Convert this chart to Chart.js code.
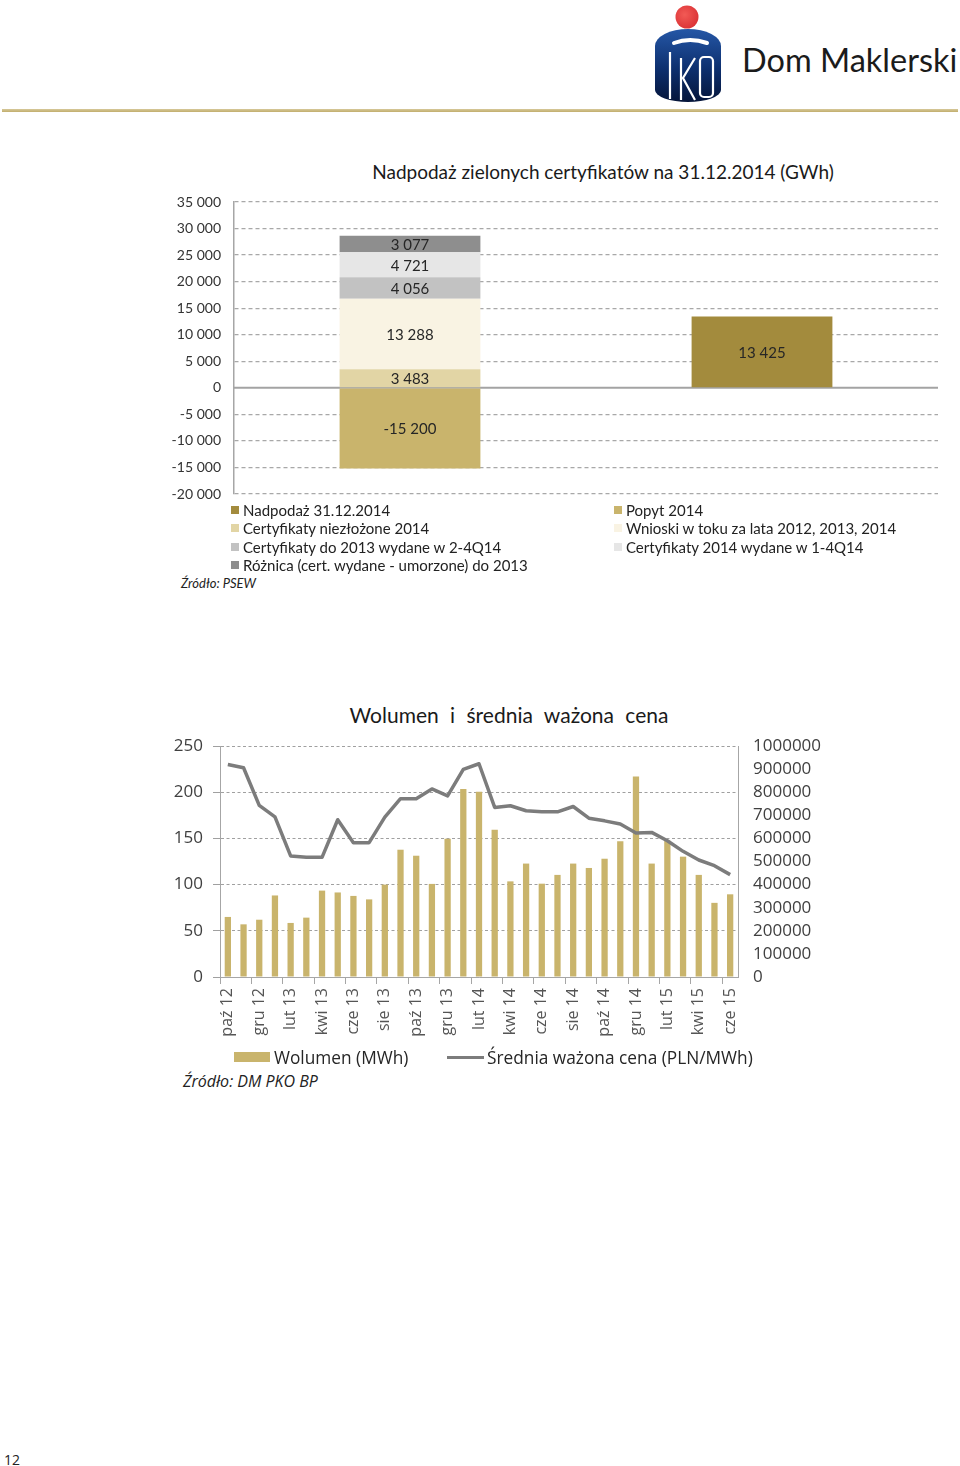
<!DOCTYPE html>
<html lang="pl">
<head>
<meta charset="utf-8">
<script src="https://cdn.jsdelivr.net/npm/chart.js@4"></script>
<style>
  html, body { margin: 0; padding: 0; background: #fff; }
  body { width: 960px; height: 1466px; position: relative; overflow: hidden; font-family: Lato, "Open Sans", sans-serif; }
  .abs { position: absolute; }
  #brand { left: 742px; top: 40px; font: 400 32.5px Lato, sans-serif; color: #1b1b1b; white-space: nowrap; }
  #goldline { left: 2px; top: 109px; width: 956px; height: 3px; background: linear-gradient(#d6c89a, #c2ae6c); }
  #title1 { left: 300px; width: 606px; top: 160px; text-align: center; font: 400 19px Lato, sans-serif; color: #1a1a1a; white-space: nowrap; }
  #c1wrap { left: 170px; top: 190px; width: 780px; height: 315px; }
  #legend1 { left: 231px; top: 501px; width: 720px; display: grid; grid-template-columns: 383px 337px; row-gap: 0; font: 400 15px Lato, sans-serif; color: #222; }
  #legend1 .it { height: 18.3px; line-height: 18.3px; white-space: nowrap; display: flex; align-items: center; }
  #legend1 .sw { width: 8px; height: 8px; margin-right: 4px; flex: none; }
  #src1 { left: 181px; top: 575px; font: italic 400 13px Lato, sans-serif; color: #222; }
  #title2 { left: 300px; width: 418px; top: 702px; text-align: center; font: 400 21px Lato, sans-serif; color: #1a1a1a; word-spacing: 6px; white-space: nowrap; }
  #c2wrap { left: 150px; top: 730px; width: 700px; height: 320px; }
  #legend2 { left: 234px; top: 1045px; font: 400 17.3px "Open Sans", sans-serif; color: #262626; white-space: nowrap; }
  #legend2 .it { position: absolute; top: 0; display: flex; align-items: center; height: 24px; }
  #src2 { left: 183px; top: 1070px; font: italic 400 16px "Open Sans", sans-serif; color: #222; white-space: nowrap; }
  #pageno { left: 4px; top: 1450px; font: 400 14px "Open Sans", sans-serif; color: #222; }
</style>
</head>
<body>
<svg class="abs" style="left:650px;top:0px" width="80" height="110" viewBox="0 0 80 110">
  <defs>
    <linearGradient id="bg" x1="0" y1="0" x2="0" y2="1">
      <stop offset="0" stop-color="#2557a6"/>
      <stop offset="0.55" stop-color="#0d2f6e"/>
      <stop offset="1" stop-color="#05153a"/>
    </linearGradient>
    <radialGradient id="rg" cx="0.4" cy="0.4" r="0.7">
      <stop offset="0" stop-color="#f25a55"/>
      <stop offset="1" stop-color="#d92f33"/>
    </radialGradient>
  </defs>
  <circle cx="37" cy="17" r="11.5" fill="url(#rg)"/>
  <path d="M5,46 A33,17 0 0 1 71,46 L71,90 A33,12 0 0 1 5,90 Z" fill="url(#bg)"/>
  <path d="M24,43 Q40,37 57,43" stroke="#fff" stroke-width="4" fill="none" stroke-linecap="round"/>
  <path d="M20,52 L20,99" stroke="#fff" stroke-width="2.2" fill="none"/>
  <path d="M31,58 L31,100 M45,58 L33,78 L45,100" stroke="#fff" stroke-width="2.2" fill="none"/>
  <rect x="50" y="57" width="13" height="40" rx="4" stroke="#fff" stroke-width="2.2" fill="none"/>
</svg>
<div id="brand" class="abs">Dom Maklerski</div>
<div id="goldline" class="abs"></div>

<div id="title1" class="abs">Nadpodaż zielonych certyfikatów na 31.12.2014 (GWh)</div>
<div id="c1wrap" class="abs"><canvas id="c1" width="780" height="315"></canvas></div>
<div id="legend1" class="abs"></div>
<div id="src1" class="abs">Źródło: PSEW</div>

<div id="title2" class="abs">Wolumen i średnia ważona cena</div>
<div id="c2wrap" class="abs"><canvas id="c2" width="700" height="320"></canvas></div>
<div id="legend2" class="abs"></div>
<div id="src2" class="abs">Źródło: DM PKO BP</div>

<div id="pageno" class="abs">12</div>

<script>
// ---------- Chart 1 data ----------
const topCategories = ['Podaż i popyt', 'Nadpodaż'];
const nadpodaz      = [null, 13425];
const popyt2014     = [-15200, null];
const niezlozone    = [3483, null];
const wnioski       = [13288, null];
const do2013Wydane  = [4056, null];
const wydane2014    = [4721, null];
const roznica       = [3077, null];
const topAxisMin = -20000, topAxisMax = 35000, topAxisStep = 5000;

// ---------- Chart 2 data ----------
const months = ['paź 12','lis 12','gru 12','sty 13','lut 13','mar 13','kwi 13','maj 13','cze 13','lip 13','sie 13','wrz 13','paź 13','lis 13','gru 13','sty 14','lut 14','mar 14','kwi 14','maj 14','cze 14','lip 14','sie 14','wrz 14','paź 14','lis 14','gru 14','sty 15','lut 15','mar 15','kwi 15','maj 15','cze 15'];
const wolumen = [260000,228000,248000,353000,234000,257000,374000,366000,351000,336000,400000,551000,525000,403000,599000,814000,802000,637000,414000,491000,404000,442000,491000,472000,512000,588000,868000,491000,590000,521000,442000,321000,358000];
const cena = [230,226.5,185.7,173.2,131,129.5,129.5,170.2,145.4,145.4,173,193,193,203.5,196,224.7,230.8,183.5,185.3,179.9,178.8,178.8,184.5,171.9,169,165.5,155.8,156.5,147.5,136,126.6,120.5,110.8];

const fmtSpace = v => String(v).replace(/\B(?=(\d{3})+(?!\d))/g, ' ');

// ---------- Chart 1 ----------
const ds1 = [
  { label: 'Nadpodaż 31.12.2014', data: nadpodaz, backgroundColor: '#a38b3d' },
  { label: 'Popyt 2014', data: popyt2014, backgroundColor: '#c9b46c' },
  { label: 'Certyfikaty niezłożone 2014', data: niezlozone, backgroundColor: '#e2d5a5' },
  { label: 'Wnioski w toku za lata 2012, 2013, 2014', data: wnioski, backgroundColor: '#f9f3e3' },
  { label: 'Certyfikaty do 2013 wydane w 2-4Q14', data: do2013Wydane, backgroundColor: '#c2c2c2' },
  { label: 'Certyfikaty 2014 wydane w 1-4Q14', data: wydane2014, backgroundColor: '#e6e6e6' },
  { label: 'Różnica (cert. wydane - umorzone) do 2013', data: roznica, backgroundColor: '#8e8e8e' }
].map(d => Object.assign(d, { stack: 's', barPercentage: 0.4, categoryPercentage: 1.0, borderWidth: 0 }));

const zeroLine = {
  id: 'zeroLine',
  beforeDatasetsDraw(chart) {
    const y = chart.scales.y.getPixelForValue(0);
    const { left, right } = chart.chartArea;
    const ctx = chart.ctx;
    ctx.save();
    ctx.strokeStyle = '#a3a3a3';
    ctx.lineWidth = 2;
    ctx.beginPath(); ctx.moveTo(left, y); ctx.lineTo(right, y); ctx.stroke();
    ctx.restore();
  }
};
const barLabels = {
  id: 'barLabels',
  afterDatasetsDraw(chart) {
    const ctx = chart.ctx;
    ctx.save();
    ctx.font = '400 15px Lato, sans-serif';
    ctx.fillStyle = '#262626';
    ctx.textAlign = 'center';
    ctx.textBaseline = 'middle';
    chart.data.datasets.forEach((ds, i) => {
      const meta = chart.getDatasetMeta(i);
      meta.data.forEach((el, j) => {
        const v = ds.data[j];
        if (v == null) return;
        const p = el.getProps(['x', 'y', 'base'], true);
        ctx.fillText(fmtSpace(v), p.x, (p.y + p.base) / 2 + 1);
      });
    });
    ctx.restore();
  }
};
const noPad = s => { s.paddingTop = 0; s.paddingBottom = 0; };

const chart1 = new Chart(document.getElementById('c1'), {
  type: 'bar',
  data: { labels: topCategories, datasets: ds1 },
  options: {
    responsive: false, animation: false,
    layout: { padding: { top: 12, right: 12, bottom: 11, left: 0 } },
    plugins: { legend: { display: false }, tooltip: { enabled: false } },
    scales: {
      x: { stacked: true, display: false, grid: { display: false } },
      y: {
        stacked: true, min: topAxisMin, max: topAxisMax,
        afterFit(s) { s.width = 64; noPad(s); },
        ticks: { stepSize: topAxisStep, autoSkip: false, padding: 13, color: '#333', font: { family: 'Lato', size: 14 }, callback: v => fmtSpace(v) },
        grid: { drawTicks: false, color: ctx => (ctx.tick && ctx.tick.value === 0) ? 'rgba(0,0,0,0)' : '#a8a8a8', lineWidth: 1.2 },
        border: { display: true, color: '#a6a6a6', width: 1.5, dash: [4, 3] }
      }
    }
  },
  plugins: [zeroLine, barLabels]
});

// HTML legend for chart 1 (built from datasets)
const leg1 = document.getElementById('legend1');
chart1.data.datasets.forEach(ds => {
  const it = document.createElement('div'); it.className = 'it';
  const sw = document.createElement('span'); sw.className = 'sw'; sw.style.background = ds.backgroundColor;
  const tx = document.createElement('span'); tx.textContent = ds.label;
  it.appendChild(sw); it.appendChild(tx); leg1.appendChild(it);
});

// ---------- Chart 2 ----------
const chart2 = new Chart(document.getElementById('c2'), {
  type: 'bar',
  data: {
    labels: months,
    datasets: [
      { type: 'bar', label: 'Wolumen (MWh)', data: wolumen, yAxisID: 'y1', order: 1,
        backgroundColor: '#c9b46c', barPercentage: 0.4, categoryPercentage: 1.0, borderWidth: 0 },
      { type: 'line', label: 'Średnia ważona cena (PLN/MWh)', data: cena, yAxisID: 'y', order: 0,
        borderColor: '#7c7c7c', backgroundColor: '#7c7c7c', borderWidth: 3.5, pointRadius: 0, tension: 0,
        borderJoinStyle: 'round' }
    ]
  },
  options: {
    responsive: false, animation: false,
    layout: { padding: { top: 16, right: 0, bottom: 0, left: 0 } },
    plugins: { legend: { display: false }, tooltip: { enabled: false } },
    scales: {
      x: {
        afterFit(s) { s.height = 73; s.paddingLeft = 0; s.paddingRight = 0; },
        ticks: { autoSkip: false, maxRotation: 90, minRotation: 90, padding: 4, color: '#555',
                 font: { family: 'Open Sans', size: 16 },
                 callback: function(v, i) { return i % 2 === 0 ? this.getLabelForValue(v) : ''; } },
        grid: { offset: true, drawOnChartArea: false, drawTicks: true, tickLength: 7, lineWidth: 1,
                color: ctx => (ctx.index % 2 === 0) ? '#a6a6a6' : 'rgba(0,0,0,0)' },
        border: { display: true, color: '#a6a6a6', width: 1 }
      },
      y: {
        position: 'left', min: 0, max: 250,
        afterFit(s) { s.width = 70; noPad(s); },
        ticks: { stepSize: 50, autoSkip: false, padding: 10, color: '#404040', font: { family: 'Open Sans', size: 17 } },
        grid: { drawTicks: true, tickLength: 7, color: '#a0a0a0', lineWidth: 1 },
        border: { display: true, color: '#a6a6a6', width: 1, dash: [3, 2.5] }
      },
      y1: {
        position: 'right', min: 0, max: 1000000,
        afterFit(s) { s.width = 112; noPad(s); },
        ticks: { stepSize: 100000, autoSkip: false, padding: 15, color: '#404040', font: { family: 'Open Sans', size: 17 }, callback: v => String(v) },
        grid: { drawOnChartArea: false, drawTicks: false },
        border: { display: true, color: '#a6a6a6', width: 1 }
      }
    }
  }
});

// HTML legend for chart 2
const leg2 = document.getElementById('legend2');
const items2 = [
  { ds: chart2.data.datasets[0], left: 0 },
  { ds: chart2.data.datasets[1], left: 213 }
];
items2.forEach(({ ds, left }) => {
  const it = document.createElement('div'); it.className = 'it'; it.style.left = left + 'px';
  const sw = document.createElement('span');
  if (ds.type === 'bar') {
    sw.style.cssText = 'display:inline-block;width:36px;height:10px;margin-right:4px;background:' + ds.backgroundColor;
  } else {
    sw.style.cssText = 'display:inline-block;width:37px;height:3px;margin-right:3px;background:' + ds.borderColor;
  }
  const tx = document.createElement('span'); tx.textContent = ds.label;
  it.appendChild(sw); it.appendChild(tx); leg2.appendChild(it);
});
</script>
</body>
</html>
